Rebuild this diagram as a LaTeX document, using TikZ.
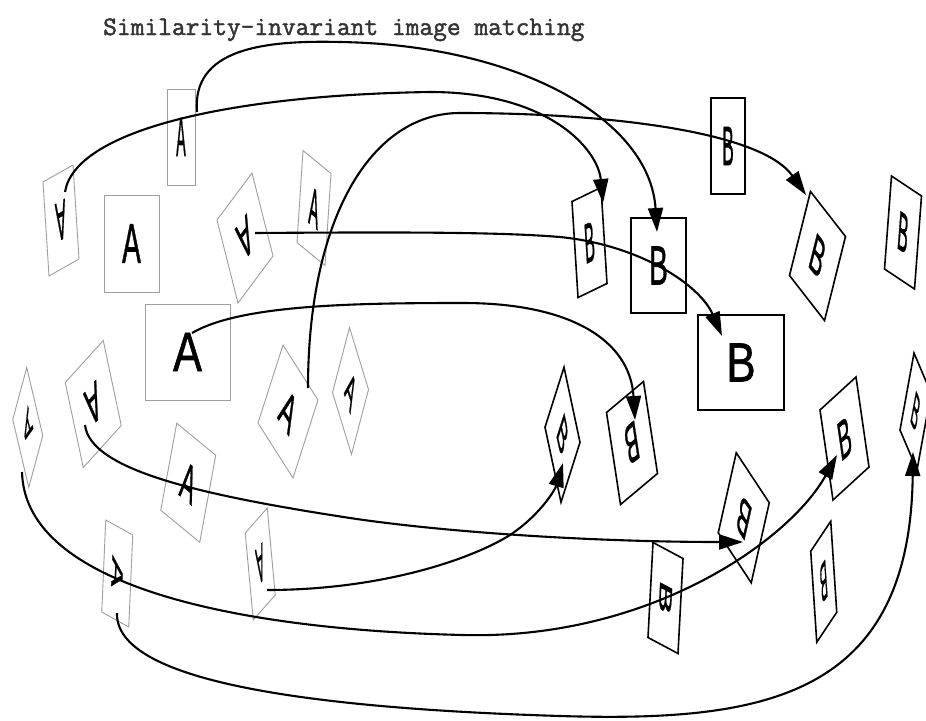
\documentclass[tikz,border=0pt]{standalone}
\usepackage{fontspec}
\setmainfont{Liberation Sans}
\setmonofont[FakeBold=1.6]{Latin Modern Mono}
\newfontfamily\lettfont[FakeBold=1.2]{Liberation Sans}
\usetikzlibrary{arrows.meta}
\tikzset{
  ashape/.style={draw=black!38, line width=0.9pt, line join=miter},
  bshape/.style={draw=black, line width=1.6pt, line join=miter},
  lett/.style={inner sep=0pt, font=\lettfont\fontsize{11.6pt}{12pt}\selectfont, xscale=0.88},
  conn/.style={line width=2.1pt, -{Triangle[length=24pt,width=15pt]}},
}
% #1 name, #2 cx, #3 cy, #4 ux, #5 uy, #6 vx, #7 vy (pixels, y down), #8 letter, #9 style
\newcommand\pshape[9]{%
  \pgfmathsetmacro\pshA{(#4)/10}%
  \pgfmathsetmacro\pshB{-(#5)/10}%
  \pgfmathsetmacro\pshC{(#6)/10}%
  \pgfmathsetmacro\pshD{-(#7)/10}%
  \begin{scope}[shift={(#2,#3)},cm={\pshA,\pshB,\pshC,\pshD,(0,0)}]
    \draw[#9] (-10pt,-10pt) -- (10pt,-10pt) -- (10pt,10pt) -- (-10pt,10pt) -- cycle;
    \node[lett,transform shape] (#1) at (0pt,0pt) {#8};
  \end{scope}}
\begin{document}
\begin{tikzpicture}[x=1pt,y=-1pt]
\useasboundingbox (0,0) rectangle (926,720);
\fill[white] (0,0) rectangle (926,720);
\clip (0,0) rectangle (926,720);

\node[anchor=base west, inner sep=0pt, font=\ttfamily\fontsize{26.7pt}{28pt}\selectfont, text=black!80] (title) at (103,35) {Similarity-invariant image matching};

% A shapes (gray)
\pshape{A1}{61}{220.5}{-15}{8.5}{3}{47}{A}{ashape}
\pshape{A2}{181}{137}{14}{0}{0}{-48}{A}{ashape}
\pshape{A3}{131.5}{243.5}{27.5}{0}{0}{-48.5}{A}{ashape}
\pshape{A4}{245}{238}{-17.5}{23.5}{10.5}{41.5}{A}{ashape}
\pshape{A5}{314}{208}{14}{11.5}{3}{-46}{A}{ashape}
\pshape{A6}{187.5}{352}{42.5}{0}{0}{-48}{A}{ashape}
\pshape{A7}{288}{411.5}{17.5}{27.5}{12.5}{-39}{A}{ashape}
\pshape{A8}{350.5}{391}{9.5}{31}{8.5}{-32.5}{A}{ashape}
\pshape{A9}{27.75}{427.5}{-8}{-34}{-7}{26}{A}{ashape}
\pshape{A10}{93.25}{404}{-19}{21}{9}{42.5}{A}{ashape}
\pshape{A11}{188.25}{482.75}{19.5}{16}{8}{-43.5}{A}{ashape}
\pshape{A12}{117.25}{573.5}{-2}{46}{13.5}{7.5}{A}{ashape}
\pshape{A13}{260.25}{564}{-11}{12.5}{4}{43.5}{A}{ashape}

% B shapes (black)
\pshape{B1}{589.5}{242.5}{14.5}{-7}{-3}{-48}{B}{bshape}
\pshape{B2}{658.5}{265.5}{27.5}{0}{0}{-47.5}{B}{bshape}
\pshape{B3}{728}{146}{17}{0}{0}{-48}{B}{bshape}
\pshape{B4}{817.5}{256}{17.5}{22.5}{10.5}{-42}{B}{bshape}
\pshape{B5}{903}{232.5}{15}{10}{3.5}{-46.5}{B}{bshape}
\pshape{B6}{741}{362.5}{43}{0}{0}{-47.5}{B}{bshape}
\pshape{B7}{562.5}{434.75}{8}{37.5}{9.5}{-30}{B}{bshape}
\pshape{B8}{632}{443}{-18.5}{15.5}{7}{46}{B}{bshape}
\pshape{B9}{743.75}{517.75}{-16.5}{-25}{-9}{40}{B}{bshape}
\pshape{B10}{665.5}{598}{-2.5}{47.5}{15}{8}{B}{bshape}
\pshape{B11}{844.5}{438.5}{18}{-16.5}{-6.5}{-45}{B}{bshape}
\pshape{B12}{823.75}{581.75}{-10}{15}{3}{45.5}{B}{bshape}
\pshape{B13}{915.5}{411.5}{8.5}{20}{7}{-38.5}{B}{bshape}

% connector end points
\coordinate (s1) at (65,192);   \coordinate (e1) at (603,203);
\coordinate (s2) at (197,112);  \coordinate (e2) at (657,232);
\coordinate (s3) at (308,388);  \coordinate (e3) at (806,195);
\coordinate (s4) at (255,233);  \coordinate (e4) at (722,336);
\coordinate (s5) at (192,333);  \coordinate (e5) at (635,420);
\coordinate (s6) at (85,425);   \coordinate (e6) at (743,542);
\coordinate (s7) at (267,590);  \coordinate (e7) at (563,463);
\coordinate (s8) at (22,472);   \coordinate (e8) at (837,455);
\coordinate (s9) at (117,613);  \coordinate (e9) at (913,452);

\draw[conn] (s1) .. controls (75,130) and (230,95) .. (430,92) .. controls (550,92) and (598,150) .. (e1);
\draw[conn] (s2) .. controls (192,50) and (260,40) .. (340,42) .. controls (520,45) and (650,120) .. (e2);
\draw[conn] (s3) .. controls (308,220) and (370,113) .. (460,113) .. controls (600,113) and (760,130) .. (e3);
\draw[conn] (s4) .. controls (400,232) and (500,232) .. (560,237) .. controls (640,245) and (700,285) .. (e4);
\draw[conn] (s5) .. controls (240,305) and (350,303) .. (463,303) .. controls (570,303) and (630,340) .. (e5);
\draw[conn] (s6) .. controls (90,470) and (200,495) .. (350,518) .. controls (450,533) and (600,542) .. (e6);
\draw[conn] (s7) .. controls (380,590) and (470,560) .. (510,535) .. controls (540,515) and (555,490) .. (e7);
\draw[conn] (s8) .. controls (25,590) and (250,630) .. (463,635) .. controls (650,640) and (790,540) .. (e8);
\draw[conn] (s9) .. controls (115,680) and (300,708) .. (560,716) .. controls (760,722) and (910,700) .. (e9);
\end{tikzpicture}
\end{document}
